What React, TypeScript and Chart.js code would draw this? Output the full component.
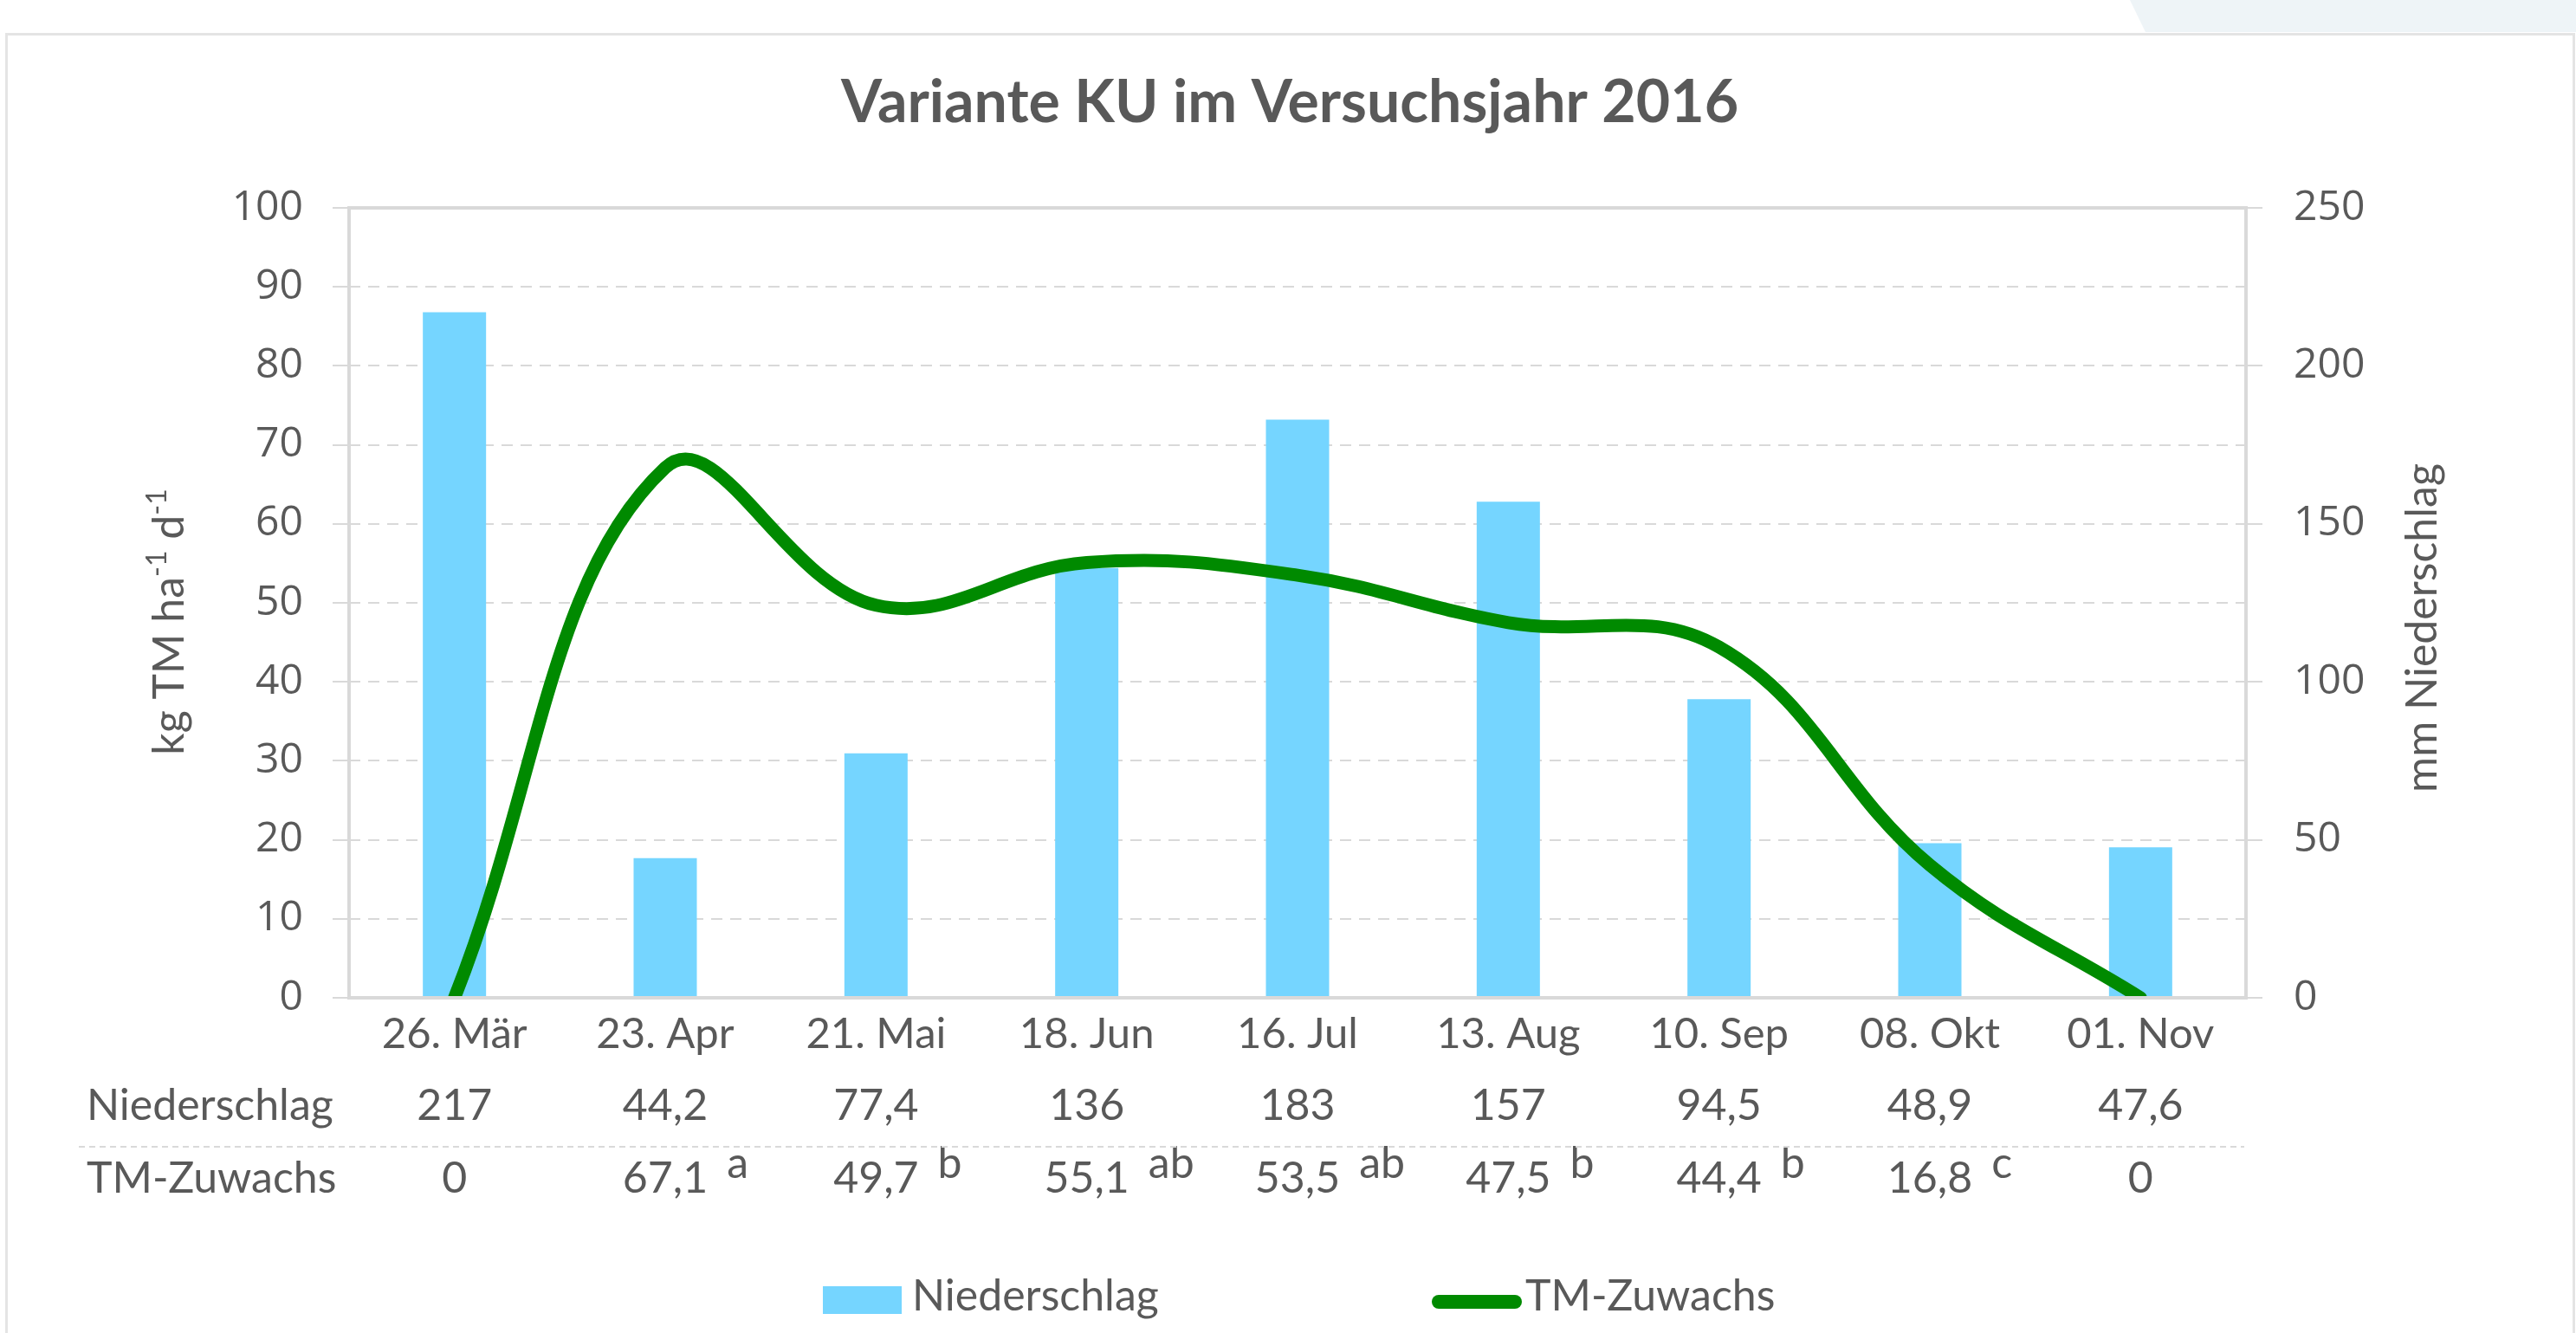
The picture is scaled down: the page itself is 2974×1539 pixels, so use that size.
import React, { useEffect, useRef } from 'react';
import { Chart, registerables } from 'chart.js';

Chart.register(...registerables);

// ---- data ----
const chartTitle = 'Variante KU im Versuchsjahr 2016';
const categories = ['26. Mär', '23. Apr', '21. Mai', '18. Jun', '16. Jul', '13. Aug', '10. Sep', '08. Okt', '01. Nov'];
const niederschlag = [217, 44.2, 77.4, 136, 183, 157, 94.5, 48.9, 47.6];
const tmZuwachs = [0, 67.1, 49.7, 55.1, 53.5, 47.5, 44.4, 16.8, 0];
const tmLetters = ['', 'a', 'b', 'ab', 'ab', 'b', 'b', 'c', ''];
const leftAxisRange = [0, 100, 10];
const rightAxisRange = [0, 250, 50];
const rowLabels = ['Niederschlag', 'TM-Zuwachs'];
const seriesNames = ['Niederschlag', 'TM-Zuwachs'];
const leftTitleParts = [
  { t: 'kg TM ha', sup: false },
  { t: '-1', sup: true },
  { t: ' d', sup: false },
  { t: '-1', sup: true },
];
const rightTitle = 'mm Niederschlag';

// ---- style ----
const W = 2974;
const H = 1539;
const TEXT = '#595959';
const BAR = '#75D5FF';
const LINE = '#008A00';
const GRID = '#D9D9D9';
const fmt = (v: number) => String(v).replace('.', ',');

const decor = {
  id: 'decor',
  beforeDraw(chart: any) {
    const ctx = chart.ctx;
    ctx.save();
    ctx.fillStyle = '#ffffff';
    ctx.fillRect(0, 0, W, H);
    ctx.fillStyle = '#EEF4F7';
    ctx.beginPath();
    ctx.moveTo(2459, 0);
    ctx.lineTo(W, 0);
    ctx.lineTo(W, 37);
    ctx.lineTo(2477, 37);
    ctx.closePath();
    ctx.fill();
    ctx.strokeStyle = '#E4E4E4';
    ctx.lineWidth = 3;
    ctx.strokeRect(7.5, 39.5, 2964, 1700);
    ctx.fillStyle = TEXT;
    ctx.font = 'bold 68px Lato';
    ctx.textAlign = 'center';
    ctx.textBaseline = 'alphabetic';
    ctx.fillText(chartTitle, 1489, 141);
    ctx.restore();
  },
  afterDatasetsDraw(chart: any) {
    const ctx = chart.ctx;
    const a = chart.chartArea;
    ctx.save();
    ctx.strokeStyle = GRID;
    ctx.lineWidth = 4;
    ctx.strokeRect(a.left, a.top, a.right - a.left, a.bottom - a.top);
    ctx.restore();
  },
  afterDraw(chart: any) {
    const ctx = chart.ctx;
    const xs = chart.scales.x;
    ctx.save();
    ctx.fillStyle = TEXT;
    ctx.textBaseline = 'alphabetic';

    // left axis title (rotated, with superscripts)
    const mainFont = '50px Lato';
    const supFont = '32px Lato';
    let total = 0;
    const widths = leftTitleParts.map((p) => {
      ctx.font = p.sup ? supFont : mainFont;
      const w = ctx.measureText(p.t).width;
      total += w;
      return w;
    });
    ctx.save();
    ctx.translate(212, 718);
    ctx.rotate(-Math.PI / 2);
    ctx.textAlign = 'left';
    let px = -total / 2;
    leftTitleParts.forEach((p, i) => {
      ctx.font = p.sup ? supFont : mainFont;
      ctx.fillText(p.t, px, p.sup ? -20 : 0);
      px += widths[i];
    });
    ctx.restore();

    // right axis title
    ctx.save();
    ctx.translate(2813, 725);
    ctx.rotate(-Math.PI / 2);
    ctx.textAlign = 'center';
    ctx.font = mainFont;
    ctx.fillText(rightTitle, 0, 0);
    ctx.restore();

    // data table
    ctx.font = '50px Lato';
    ctx.textAlign = 'left';
    ctx.fillText(rowLabels[0], 100, 1293);
    ctx.fillText(rowLabels[1], 100, 1377);
    for (let i = 0; i < categories.length; i++) {
      const cx = xs.getPixelForValue(i);
      ctx.textAlign = 'center';
      ctx.fillText(fmt(niederschlag[i]), cx, 1293);
      const s = fmt(tmZuwachs[i]);
      ctx.fillText(s, cx, 1377);
      if (tmLetters[i]) {
        const w = ctx.measureText(s).width;
        ctx.textAlign = 'left';
        ctx.fillText(tmLetters[i], cx + w / 2 + 22, 1360);
      }
    }
    ctx.strokeStyle = GRID;
    ctx.lineWidth = 2;
    ctx.setLineDash([7, 5]);
    ctx.beginPath();
    ctx.moveTo(91, 1324);
    ctx.lineTo(2591, 1324);
    ctx.stroke();
    ctx.setLineDash([]);

    // legend
    ctx.fillStyle = BAR;
    ctx.fillRect(950, 1485, 91, 32);
    ctx.strokeStyle = LINE;
    ctx.lineWidth = 16;
    ctx.lineCap = 'round';
    ctx.beginPath();
    ctx.moveTo(1661, 1503);
    ctx.lineTo(1749, 1503);
    ctx.stroke();
    ctx.fillStyle = TEXT;
    ctx.font = '50px Lato';
    ctx.textAlign = 'left';
    ctx.fillText(seriesNames[0], 1053, 1513);
    ctx.fillText(seriesNames[1], 1761, 1513);
    ctx.restore();
  },
};

export default function App() {
  const ref = useRef<HTMLCanvasElement>(null);
  useEffect(() => {
    if (!ref.current) return;
    const chart = new Chart(ref.current, {
      type: 'bar',
      data: {
        labels: categories,
        datasets: [
          {
            type: 'line',
            label: seriesNames[1],
            data: tmZuwachs,
            yAxisID: 'y',
            borderColor: LINE,
            backgroundColor: LINE,
            borderWidth: 15,
            pointRadius: 0,
            tension: 0.4,
            borderCapStyle: 'round',
            borderJoinStyle: 'round',
            fill: false,
            clip: 0,
            order: 0,
          } as any,
          {
            type: 'bar',
            label: seriesNames[0],
            data: niederschlag,
            yAxisID: 'y1',
            backgroundColor: BAR,
            barPercentage: 0.3,
            categoryPercentage: 1,
            order: 1,
          } as any,
        ],
      },
      options: {
        responsive: false,
        animation: false,
        devicePixelRatio: 1,
        layout: { padding: { top: 240, left: 0, right: 0, bottom: 0 } },
        plugins: {
          legend: { display: false },
          tooltip: { enabled: false },
          title: { display: false },
        },
        scales: {
          x: {
            type: 'category',
            offset: true,
            grid: { display: false, drawTicks: false },
            border: { display: false },
            ticks: {
              color: TEXT,
              font: { family: 'Lato', size: 49 },
              padding: 13,
              maxRotation: 0,
              autoSkip: false,
            },
            afterFit: (s: any) => {
              s.height = H - 1152;
            },
          },
          y: {
            position: 'left',
            min: leftAxisRange[0],
            max: leftAxisRange[1],
            ticks: {
              stepSize: leftAxisRange[2],
              color: TEXT,
              font: { family: 'Open Sans', size: 48 },
              padding: 34,
            },
            grid: {
              color: GRID,
              lineWidth: 2,
              tickLength: 19,
              tickColor: GRID,
              tickWidth: 2,
              tickBorderDash: [],
            },
            border: { display: false, dash: [13, 9] },
            afterFit: (s: any) => {
              s.width = 403;
            },
          },
          y1: {
            position: 'right',
            min: rightAxisRange[0],
            max: rightAxisRange[1],
            ticks: {
              stepSize: rightAxisRange[2],
              color: TEXT,
              font: { family: 'Open Sans', size: 48 },
              padding: 36,
            },
            grid: {
              drawOnChartArea: false,
              color: GRID,
              lineWidth: 2,
              tickLength: 19,
            },
            border: { display: false },
            afterFit: (s: any) => {
              s.width = W - 2593;
            },
          },
        },
      } as any,
      plugins: [decor],
    });
    return () => chart.destroy();
  }, []);
  return (
    <div style={{ position: 'fixed', left: 0, top: 0, width: W, height: H, background: '#fff' }}>
      <canvas ref={ref} width={W} height={H} style={{ display: 'block', width: W, height: H }} />
    </div>
  );
}
